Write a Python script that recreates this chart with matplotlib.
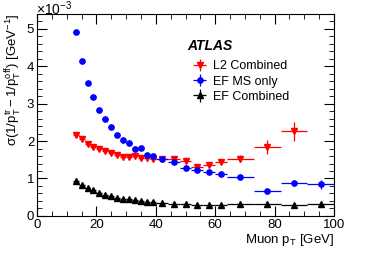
import numpy as np
import matplotlib
matplotlib.use('Agg')
import matplotlib.pyplot as plt
from matplotlib.ticker import MultipleLocator

plt.rcParams['font.family'] = ['Liberation Sans', 'DejaVu Sans']
plt.rcParams['mathtext.fontset'] = 'custom'
plt.rcParams['mathtext.rm'] = 'Liberation Sans'
plt.rcParams['mathtext.it'] = 'Liberation Sans:italic'

# bin centres and half widths [GeV]
pt = [13, 15, 17, 19, 21, 23, 25, 27, 29, 31, 33, 35, 37, 39,
      42, 46, 50, 54, 58, 62, 68.5, 77.5, 86.5, 95.5]
pt_err = [1]*14 + [2]*6 + [4.5]*4

# resolution values in units of 1e-3 GeV^-1
l2_comb = [2.16, 2.05, 1.91, 1.85, 1.78, 1.73, 1.67, 1.62, 1.58, 1.58, 1.61, 1.56, 1.54, 1.51,
           1.51, 1.53, 1.46, 1.31, 1.37, 1.45, 1.53, 1.84, 2.26, np.nan]
l2_err = [0.03]*14 + [0.04, 0.04, 0.05, 0.05, 0.05, 0.07, 0.1, 0.18, 0.26, 0.0]

ef_ms = [4.91, 4.15, 3.56, 3.17, 2.83, 2.59, 2.37, 2.17, 2.03, 1.94, 1.80, 1.81, 1.64, 1.60,
         1.51, 1.43, 1.29, 1.22, 1.16, 1.13, 1.03, 0.67, 0.88, 0.84]
ms_err = [0.02]*14 + [0.02, 0.03, 0.03, 0.03, 0.03, 0.03, 0.04, 0.04, 0.07, 0.12]

ef_comb = [0.94, 0.82, 0.75, 0.69, 0.62, 0.56, 0.52, 0.49, 0.46, 0.44, 0.42, 0.40, 0.38, 0.36,
           0.35, 0.33, 0.32, 0.30, 0.29, 0.28, 0.31, 0.31, 0.28, 0.31]
cb_err = [0.01]*24

fig = plt.figure(figsize=(3.74, 2.57), dpi=100)
ax = fig.add_axes([0.099, 0.160, 0.794, 0.786])

ax.errorbar(pt, l2_comb, xerr=pt_err, yerr=l2_err, fmt='v', color='red', ms=3.8, lw=0.9,
            capsize=0, label='L2 Combined')
ax.errorbar(pt, ef_ms, xerr=pt_err, yerr=ms_err, fmt='o', color='blue', ms=3.8, lw=0.9,
            capsize=0, label='EF MS only')
ax.errorbar(pt, ef_comb, xerr=pt_err, yerr=cb_err, fmt='^', color='black', ms=3.8, lw=0.9,
            capsize=0, label='EF Combined')

ax.set_xlim(0, 100)
ax.set_ylim(0, 5.4)
ax.xaxis.set_major_locator(MultipleLocator(20))
ax.xaxis.set_minor_locator(MultipleLocator(5))
ax.yaxis.set_major_locator(MultipleLocator(1))
ax.yaxis.set_minor_locator(MultipleLocator(0.2))
ax.tick_params(which='both', direction='in', top=True, right=True, labelsize=9.5, pad=2)
ax.tick_params(which='major', length=7)
ax.tick_params(which='minor', length=3.5)

ax.set_xlabel(r'Muon $\mathregular{p_{T}}$ [GeV]', fontsize=9.5, loc='right', labelpad=1)
ax.set_ylabel(r'$\mathregular{\sigma(1/p_{T}^{tr} - 1/p_{T}^{off})}$ [GeV$\mathregular{^{-1}}$]',
              fontsize=9.5, loc='top', labelpad=2)
fig.text(0.095, 0.965, r'$\mathregular{\times10^{-3}}$', fontsize=10, ha='left', va='center')

fig.text(0.50, 0.82, 'ATLAS', fontsize=10, fontweight='bold', fontstyle='italic',
         ha='left', va='center')
ax.legend(loc='upper left', bbox_to_anchor=(0.512, 0.765), bbox_transform=fig.transFigure,
          frameon=False, fontsize=9, handlelength=1.3, handletextpad=0.4,
          labelspacing=0.25, borderpad=0, borderaxespad=0)

fig.savefig('out.png', dpi=100)
